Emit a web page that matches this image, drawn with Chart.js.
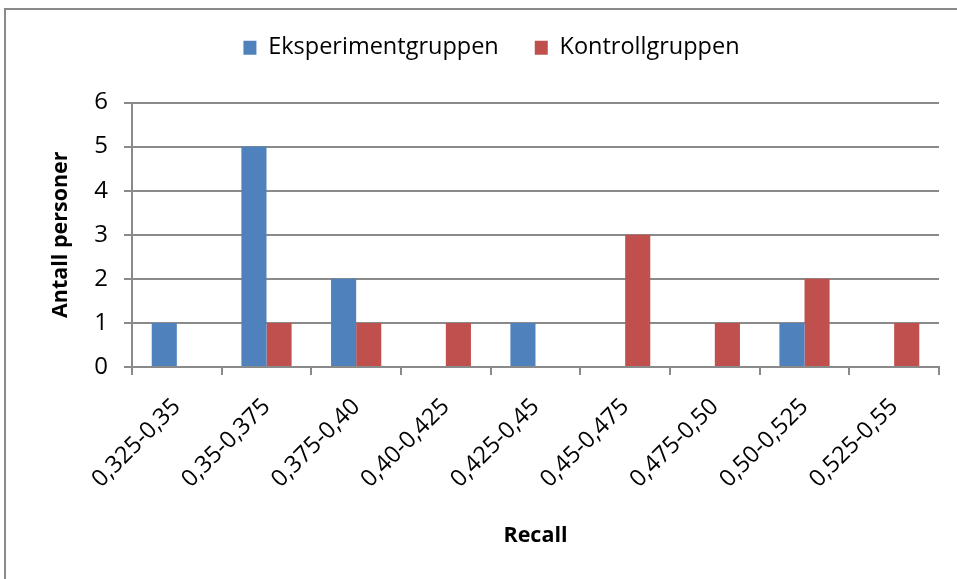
<!DOCTYPE html>
<html>
<head>
<meta charset="utf-8">
<script src="https://cdn.jsdelivr.net/npm/chart.js@4/dist/chart.umd.min.js"></script>
<style>
  html, body { margin: 0; padding: 0; background: #fff; overflow: hidden; }
  #wrap { position: relative; width: 957px; height: 579px; }
  #frame { position: absolute; left: 4px; top: 8px; width: 1200px; height: 1200px;
           border: 2px solid #8a8a8a; box-sizing: border-box; }
  #c { position: absolute; left: 0; top: 0; }
</style>
</head>
<body>
<div id="wrap">
  <div id="frame"></div>
  <canvas id="c" width="957" height="579"></canvas>
</div>
<script>
// Recall intervals (histogram bins)
const categories = ['0,325-0,35', '0,35-0,375', '0,375-0,40', '0,40-0,425', '0,425-0,45',
                    '0,45-0,475', '0,475-0,50', '0,50-0,525', '0,525-0,55'];
// Number of persons per bin
const eksperiment = [1, 5, 2, 0, 1, 0, 0, 1, 0];
const kontroll    = [0, 1, 1, 1, 0, 3, 1, 2, 1];
const seriesNames = ['Eksperimentgruppen', 'Kontrollgruppen'];
const yTitle = 'Antall personer';
const xTitle = 'Recall';

const FONT = "'Open Sans', 'Noto Sans', sans-serif";
const GRID = '#8a8a8a';

// extra space between the legend and the plot
const legendGap = {
  id: 'legendGap',
  beforeInit(chart) {
    const origFit = chart.legend.fit;
    chart.legend.fit = function () {
      origFit.call(this);
      this.height += 33;
    };
  }
};

new Chart(document.getElementById('c'), {
  type: 'bar',
  data: {
    labels: categories,
    datasets: [
      { label: seriesNames[0], data: eksperiment, backgroundColor: '#4F81BD' },
      { label: seriesNames[1], data: kontroll, backgroundColor: '#C0504D' }
    ]
  },
  options: {
    responsive: false,
    animation: false,
    devicePixelRatio: 1,
    layout: { padding: { left: 44, right: 18, top: 0, bottom: 0 } },
    datasets: { bar: { categoryPercentage: 0.56, barPercentage: 1.0 } },
    plugins: {
      tooltip: { enabled: false },
      legend: {
        position: 'top',
        labels: {
          color: '#000',
          font: { family: FONT, size: 23.5 },
          boxWidth: 13, boxHeight: 14,
          padding: 36
        }
      }
    },
    scales: {
      x: {
        offset: true,
        grid: { offset: true, drawOnChartArea: false, drawTicks: true, tickLength: 8, color: GRID, lineWidth: 2 },
        border: { color: GRID, width: 2 },
        ticks: { color: '#000', font: { family: FONT, size: 23.5 }, minRotation: 45, maxRotation: 45, padding: 18 },
        title: { display: true, text: xTitle, color: '#000', font: { family: FONT, size: 21.5, weight: 'bold' }, padding: { top: 0, bottom: 30 } },
        afterFit(scale) { scale.height = 212; }
      },
      y: {
        min: 0, max: 6,
        ticks: { stepSize: 1, color: '#000', font: { family: FONT, size: 24 }, padding: 16 },
        grid: { color: GRID, lineWidth: 2, tickLength: 8 },
        border: { color: GRID, width: 2 },
        title: { display: true, text: yTitle, color: '#000', font: { family: FONT, size: 21.5, weight: 'bold' }, padding: { top: 4, bottom: 0 } },
        afterFit(scale) { scale.width = 88; }
      }
    }
  },
  plugins: [legendGap]
});
</script>
</body>
</html>
